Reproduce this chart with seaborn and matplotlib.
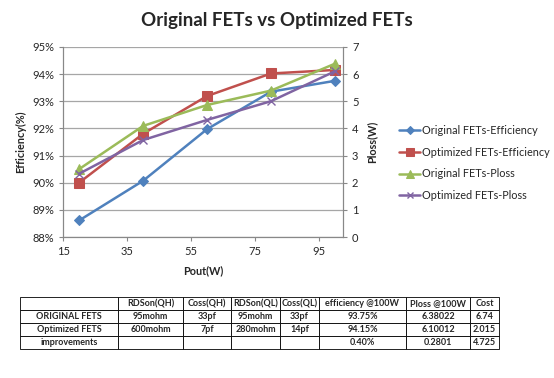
import matplotlib.pyplot as plt
import numpy as np
import pandas as pd
import seaborn as sns

sns.set_style('white')
plt.rcParams['font.family'] = ['Lato', 'DejaVu Sans']

pout = [20, 40, 60, 80, 100]
eff_orig = [88.61, 90.07, 91.97, 93.35, 93.75]
eff_opt = [90.0, 91.8, 93.19, 94.02, 94.15]
ploss_orig = [2.5, 4.09, 4.86, 5.39, 6.38]
ploss_opt = [2.33, 3.57, 4.31, 5.0, 6.10]

col_labels = ['', 'RDSon(QH)', 'Coss(QH)', 'RDSon(QL)', 'Coss(QL)',
              'efficiency @100W', 'Ploss @100W', 'Cost']
row_orig = ['ORIGINAL FETS', '95mohm', '33pf', '95mohm', '33pf', '93.75%', '6.38022', '6.74']
row_opt = ['Optimized FETS', '600mohm', '7pf', '280mohm', '14pf', '94.15%', '6.10012', '2.015']
row_imp = ['improvements', '', '', '', '', '0.40%', '0.2801', '4.725']

colors = ['#4F81BD', '#C0504D', '#9BBB59', '#8064A2']

fig = plt.figure(figsize=(5.54, 3.78), dpi=100)
ax = fig.add_axes([0.114, 0.373, 0.505, 0.503])
ax2 = ax.twinx()

df = pd.DataFrame({'Pout': pout, 'eo': eff_orig, 'ep': eff_opt, 'po': ploss_orig, 'pp': ploss_opt})

sns.lineplot(data=df, x='Pout', y='eo', ax=ax, color=colors[0], marker='D', markersize=5,
             markeredgecolor=colors[0], linewidth=1.8, label='Original FETs-Efficiency', legend=False)
sns.lineplot(data=df, x='Pout', y='ep', ax=ax, color=colors[1], marker='s', markersize=7,
             markeredgecolor=colors[1], linewidth=1.8, label='Optimized FETs-Efficiency', legend=False)
sns.lineplot(data=df, x='Pout', y='po', ax=ax2, color=colors[2], marker='^', markersize=7,
             markeredgecolor=colors[2], linewidth=1.8, label='Original FETs-Ploss', legend=False)
sns.lineplot(data=df, x='Pout', y='pp', ax=ax2, color=colors[3], marker='x', markersize=6,
             markeredgecolor=colors[3], markeredgewidth=1, linewidth=1.8,
             label='Optimized FETs-Ploss', legend=False)

ax.set_xlim(15, 102.5)
ax.set_ylim(88, 95)
ax2.set_ylim(0, 7)
ax.set_xticks([15, 35, 55, 75, 95])
ax.set_yticks(np.arange(88, 96, 1))
ax.set_yticklabels([f'{v}%' for v in range(88, 96)])
ax2.set_yticks(range(0, 8))
ax.yaxis.grid(True, color='#A6A6A6', linewidth=0.9)
ax.set_axisbelow(True)

for a in (ax, ax2):
    a.spines['top'].set_visible(False)
    a.tick_params(labelsize=8, length=3, direction='out', color='#888888')
    for s in a.spines.values():
        s.set_color('#888888')
ax.tick_params(left=True, bottom=True)
ax2.tick_params(right=True)

ax.set_xlabel('Pout(W)', fontsize=7.8, fontweight='bold', labelpad=6)
ax.set_ylabel('Efficiency(%)', fontsize=7.8, fontweight='bold')
ax2.set_ylabel('Ploss(W)', fontsize=7.8, fontweight='bold', labelpad=6)

fig.text(0.5, 0.947, 'Original FETs vs Optimized FETs', ha='center', va='center',
         fontsize=13.5, fontweight='bold')

h1, l1 = ax.get_legend_handles_labels()
h2, l2 = ax2.get_legend_handles_labels()
fig.legend(h1 + h2, l1 + l2, loc='center left', bbox_to_anchor=(0.712, 0.569),
           borderaxespad=0, frameon=False, fontsize=7.8, labelspacing=1.0,
           handlelength=2.0, handletextpad=0.15, markerscale=0.8)

tax = fig.add_axes([0.0361, 0.0767, 0.8646, 0.1376])
tax.axis('off')
widths = [98, 65, 48, 49, 39, 87, 64, 29]
widths = [w / sum(widths) for w in widths]
tbl = tax.table(cellText=[col_labels, row_orig, row_opt, row_imp], colWidths=widths,
                cellLoc='center', bbox=[0, 0, 1, 1])
tbl.auto_set_font_size(False)
tbl.set_fontsize(6.5)
for (r, c), cell in tbl.get_celld().items():
    cell.set_linewidth(0.6)
    cell.PAD = 0.02
    cell.get_text().set_fontweight('bold')

fig.savefig('out.png', dpi=100)
